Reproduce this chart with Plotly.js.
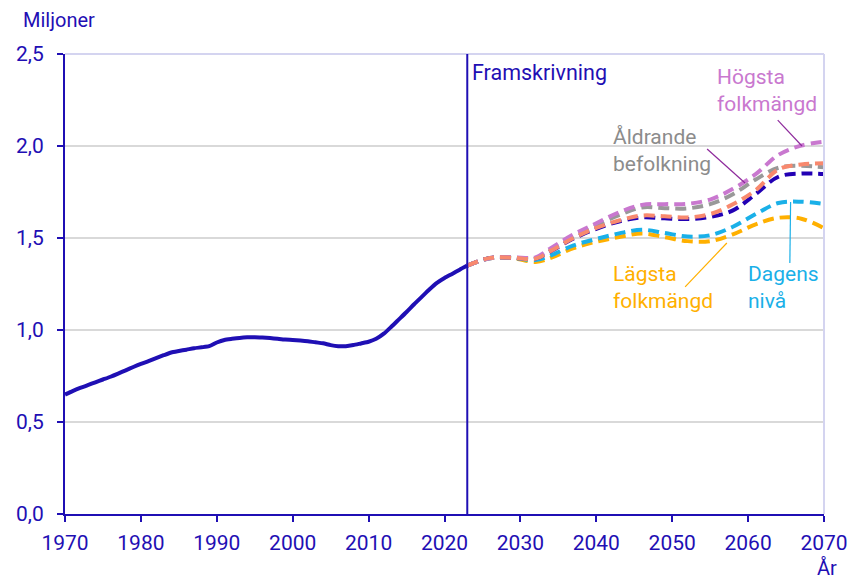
<!DOCTYPE html>
<html>
<head>
<meta charset="utf-8">
<script src="https://cdn.plot.ly/plotly-3.0.1.min.js"></script>
<style>html,body{margin:0;padding:0;background:#fff;}#chart{width:850px;height:580px;}</style>
</head>
<body>
<div id="chart"></div>
<script>
// Historical population (millions)
const histYears = [1970,1971,1972,1973,1974,1975,1976,1977,1978,1979,1980,1981,1982,1983,1984,1985,1986,1987,1988,1989,1990,1991,1992,1993,1994,1995,1996,1997,1998,1999,2000,2001,2002,2003,2004,2005,2006,2007,2008,2009,2010,2011,2012,2013,2014,2015,2016,2017,2018,2019,2020,2021,2022,2023];
const histValues = [0.649,0.668,0.685,0.700,0.716,0.731,0.746,0.763,0.781,0.799,0.816,0.831,0.847,0.863,0.878,0.886,0.893,0.901,0.906,0.912,0.932,0.946,0.952,0.957,0.960,0.961,0.959,0.956,0.952,0.948,0.946,0.943,0.939,0.933,0.928,0.918,0.912,0.912,0.918,0.927,0.936,0.952,0.980,1.018,1.058,1.098,1.140,1.180,1.220,1.256,1.283,1.305,1.328,1.350];

// Projection years
const projYears = [2023,2026,2029,2032,2034,2037,2040,2043,2046,2049,2052,2055,2058,2061,2064,2067,2070];
const hogsta    = [1.350,1.390,1.395,1.395,1.445,1.520,1.580,1.640,1.680,1.684,1.686,1.709,1.767,1.847,1.952,2.002,2.023];
const aldrande  = [1.350,1.390,1.394,1.392,1.436,1.505,1.568,1.624,1.666,1.662,1.661,1.684,1.738,1.818,1.882,1.893,1.884];
const huvud     = [1.350,1.392,1.393,1.388,1.430,1.500,1.555,1.595,1.622,1.618,1.612,1.630,1.683,1.760,1.873,1.900,1.906];
const annat     = [1.350,1.392,1.393,1.388,1.428,1.497,1.550,1.590,1.612,1.607,1.603,1.615,1.650,1.739,1.833,1.850,1.848];
const dagens    = [1.350,1.390,1.392,1.380,1.405,1.460,1.495,1.525,1.545,1.527,1.508,1.515,1.561,1.630,1.690,1.697,1.685];
const lagsta    = [1.350,1.390,1.390,1.370,1.392,1.445,1.480,1.505,1.525,1.505,1.483,1.483,1.520,1.574,1.610,1.605,1.553];

const xTicks = [1970,1980,1990,2000,2010,2020,2030,2040,2050,2060,2070];
const yTicks = [0,0.5,1.0,1.5,2.0,2.5];
const yTickText = ["0,0","0,5","1,0","1,5","2,0","2,5"];

const BLUE = "#1f0fb4";
const FONT = "Roboto, 'Noto Sans', sans-serif";
const dash = "11px,6px";

function proj(y, color, name) {
  return {x: projYears, y: y, type: "scatter", mode: "lines", name: name,
    line: {color: color, width: 4, dash: dash, shape: "spline", smoothing: 1.0},
    hoverinfo: "x+y"};
}

const data = [
  {x: histYears, y: histValues, type: "scatter", mode: "lines", name: "Historik",
   line: {color: BLUE, width: 4, shape: "spline", smoothing: 0.6}},
  proj(lagsta, "#ffb000", "Lägsta folkmängd"),
  proj(dagens, "#1ab0e8", "Dagens nivå"),
  proj(annat, "#2200b4", "Alternativ"),
  proj(aldrande, "#999999", "Åldrande befolkning"),
  proj(hogsta, "#c978cf", "Högsta folkmängd"),
  proj(huvud, "#f8896e", "Huvudalternativ")
];

const layout = {
  width: 850, height: 580,
  margin: {l: 65, r: 26, t: 54, b: 66},
  showlegend: false,
  paper_bgcolor: "#fff", plot_bgcolor: "#fff",
  font: {family: FONT, color: BLUE, size: 21},
  xaxis: {
    range: [1970, 2070], tickvals: xTicks, ticktext: xTicks.map(String),
    showgrid: false, zeroline: false,
    showline: true, linecolor: BLUE, linewidth: 2,
    ticks: "outside", ticklen: 6, tickwidth: 2, tickcolor: BLUE,
    ticklabelstandoff: 3,
    tickfont: {family: FONT, color: BLUE, size: 21}
  },
  yaxis: {
    range: [0, 2.5], tickvals: yTicks, ticktext: yTickText,
    showgrid: true, gridcolor: "#d9d9d9", gridwidth: 1.5, zeroline: false,
    showline: true, linecolor: BLUE, linewidth: 2,
    ticks: "outside", ticklen: 6, tickwidth: 2, tickcolor: BLUE,
    ticklabelstandoff: 9,
    tickfont: {family: FONT, color: BLUE, size: 21}
  },
  shapes: [
    {type: "line", xref: "paper", yref: "paper", x0: 0, x1: 1, y0: 1, y1: 1, line: {color: "#d4d4f0", width: 2}},
    {type: "line", xref: "paper", yref: "paper", x0: 1, x1: 1, y0: 0, y1: 1, line: {color: "#d4d4f0", width: 2}},
    {type: "line", xref: "x", yref: "paper", x0: 2023, x1: 2023, y0: 0, y1: 1, line: {color: BLUE, width: 2}},
    {type: "line", xref: "x", yref: "y", x0: 2063.9, y0: 2.141, x1: 2067.1, y1: 2.0, line: {color: "#8e2a9c", width: 1.2}},
    {type: "line", xref: "x", yref: "y", x0: 2054.6, y0: 1.984, x1: 2059.6, y1: 1.799, line: {color: "#8e2a9c", width: 1.2}},
    {type: "line", xref: "x", yref: "y", x0: 2051.7, y0: 1.234, x1: 2057.2, y1: 1.473, line: {color: "#ffb000", width: 1.2}},
    {type: "line", xref: "x", yref: "y", x0: 2065.5, y0: 1.364, x1: 2065.6, y1: 1.696, line: {color: "#1ab0e8", width: 1.2}}
  ],
  annotations: [
    {text: "Miljoner", xref: "paper", yref: "paper", x: -0.058, y: 1.074, xanchor: "left", yanchor: "middle", showarrow: false, font: {family: FONT, size: 20, color: BLUE}},
    {text: "År", xref: "paper", yref: "paper", x: 1.004, y: -0.118, xanchor: "center", yanchor: "middle", showarrow: false, font: {family: FONT, size: 20, color: BLUE}},
    {text: "Framskrivning", xref: "x", yref: "y", x: 2023.3, y: 2.4, xanchor: "left", yanchor: "middle", showarrow: false, font: {family: FONT, size: 21.5, color: BLUE}},
    {text: "Högsta<br>folkmängd", xref: "x", yref: "y", x: 2055.7, y: 2.30, xanchor: "left", yanchor: "middle", align: "left", showarrow: false, font: {family: FONT, size: 21, color: "#c978cf"}},
    {text: "Åldrande<br>befolkning", xref: "x", yref: "y", x: 2042.0, y: 1.978, xanchor: "left", yanchor: "middle", align: "left", showarrow: false, font: {family: FONT, size: 21, color: "#8c8c8c"}},
    {text: "Lägsta<br>folkmängd", xref: "x", yref: "y", x: 2042.0, y: 1.231, xanchor: "left", yanchor: "middle", align: "left", showarrow: false, font: {family: FONT, size: 21, color: "#ffb000"}},
    {text: "Dagens<br>nivå", xref: "x", yref: "y", x: 2059.7, y: 1.231, xanchor: "left", yanchor: "middle", align: "left", showarrow: false, font: {family: FONT, size: 21, color: "#1ab0e8"}}
  ]
};

Plotly.newPlot("chart", data, layout, {displayModeBar: false, staticPlot: true});
</script>
</body>
</html>
